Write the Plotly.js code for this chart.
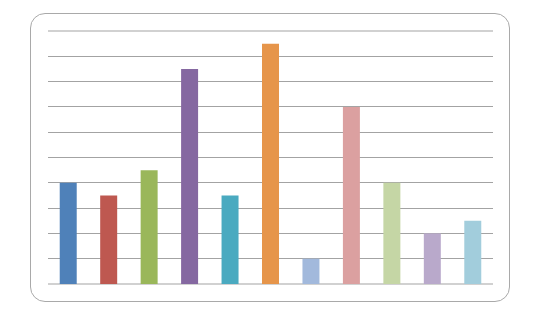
<!DOCTYPE html>
<html>
<head>
<meta charset="utf-8">
<script src="https://cdn.plot.ly/plotly-3.0.1.min.js"></script>
<style>
  html, body { margin: 0; padding: 0; background: #ffffff; }
  #wrap { position: relative; width: 534px; height: 309px; }
  #frame {
    position: absolute; left: 30px; top: 13px; width: 478px; height: 287px;
    border: 1px solid #a9a9a9; border-radius: 15px; pointer-events: none;
  }
  #chart { position: absolute; left: 0; top: 0; width: 534px; height: 309px; }
</style>
</head>
<body>
<div id="wrap">
  <div id="chart"></div>
  <div id="frame"></div>
</div>
<script>
// Eleven categories, one value each, coloured individually
const categories = ['1', '2', '3', '4', '5', '6', '7', '8', '9', '10', '11'];
const values = [4, 3.5, 4.5, 8.5, 3.5, 9.5, 1, 7, 4, 2, 2.5];
const barColors = ['#4F81B9', '#BE5850', '#9AB75A', '#8568A1', '#4AAAC0', '#E6954A',
                   '#A2B9DC', '#DBA0A0', '#C5D6A5', '#B9A9CB', '#A2CDDC'];
const yMin = 0;
const yMax = 10;

const trace = {
  type: 'bar',
  x: categories,
  y: values,
  marker: { color: barColors, line: { width: 0 } },
  hoverinfo: 'none'
};

const gridColor = '#a3a3a3';

// Edge gridlines at the bottom and top of the value range (paper 0 and 1),
// drawn unclipped so the full line width shows
const edgeLines = [0, 1].map(p => ({
  type: 'line', xref: 'paper', yref: 'paper',
  x0: 0, x1: 1, y0: p, y1: p,
  line: { color: gridColor, width: 1 },
  layer: 'below'
}));

const layout = {
  width: 534,
  height: 309,
  margin: { l: 48, r: 41, t: 31, b: 25, pad: 0 },
  paper_bgcolor: 'rgba(0,0,0,0)',
  plot_bgcolor: 'rgba(0,0,0,0)',
  showlegend: false,
  bargap: 0.58,
  shapes: edgeLines,
  xaxis: {
    type: 'category',
    showgrid: false,
    showline: false,
    zeroline: false,
    showticklabels: false,
    ticks: ''
  },
  yaxis: {
    range: [yMin, yMax],
    dtick: 1,
    tick0: 0,
    showgrid: true,
    gridcolor: gridColor,
    gridwidth: 1,
    showline: false,
    zeroline: false,
    showticklabels: false,
    ticks: ''
  }
};

Plotly.newPlot('chart', [trace], layout, { staticPlot: true, displayModeBar: false });
</script>
</body>
</html>
